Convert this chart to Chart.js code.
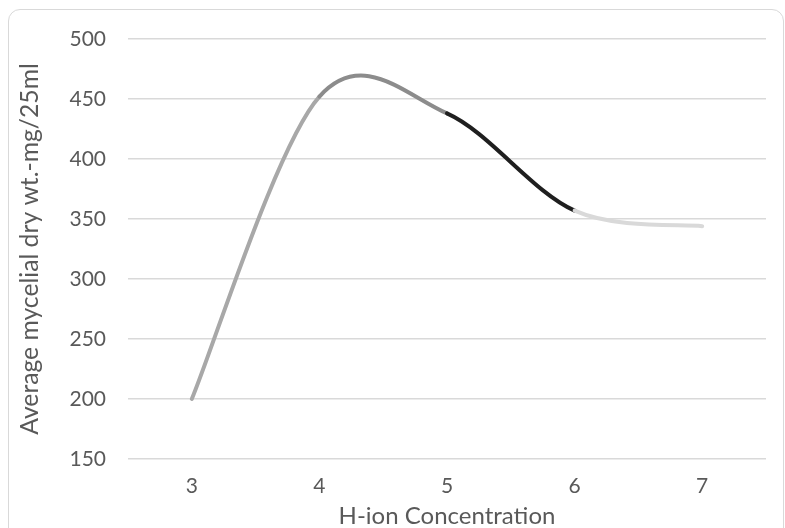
<!DOCTYPE html>
<html>
<head>
<meta charset="utf-8">
<script src="https://cdn.jsdelivr.net/npm/chart.js@4.4.1/dist/chart.umd.min.js"></script>
<style>
  html, body { margin: 0; padding: 0; background: #fff; }
  #wrap { position: relative; width: 785px; height: 528px; overflow: hidden; }
  #frame {
    position: absolute; left: 8px; top: 9px; width: 776px; height: 540px;
    border: 1px solid #d9d9d9; border-radius: 12px; box-sizing: border-box;
  }
  canvas { position: absolute; left: 0; top: 0; }
</style>
</head>
<body>
<div id="wrap">
  <div id="frame"></div>
  <canvas id="chart" width="785" height="528"></canvas>
</div>
<script>
const concentrations = ['3', '4', '5', '6', '7'];
const dryWeight = [200, 452, 438, 357, 344];
const segmentColors = ['#a8a8a8', '#8c8c8c', '#1f1f1f', '#d9d9d9'];

const FONT = 'Lato, "Open Sans", sans-serif';

// office-style smoothing: catmull-rom control points (1/6 of the neighbour chord)
const catmullRom = {
  id: 'catmullRom',
  beforeDatasetDraw(chart, args) {
    const line = chart.getDatasetMeta(args.index).dataset;
    line.updateControlPoints(chart.chartArea, 'x');
    const pts = line.points;
    pts.forEach((p, i) => {
      const prev = pts[Math.max(i - 1, 0)];
      const next = pts[Math.min(i + 1, pts.length - 1)];
      const dx = (next.x - prev.x) / 6, dy = (next.y - prev.y) / 6;
      p.cp1x = p.x - dx; p.cp1y = p.y - dy;
      p.cp2x = p.x + dx; p.cp2y = p.y + dy;
    });
  }
};

new Chart(document.getElementById('chart'), {
  type: 'line',
  data: {
    labels: concentrations,
    datasets: [{
      data: dryWeight,
      borderWidth: 4,
      borderCapStyle: 'round',
      tension: 0.4,
      pointRadius: 0,
      fill: false,
      segment: { borderColor: ctx => segmentColors[ctx.p0DataIndex] }
    }]
  },
  plugins: [catmullRom],
  options: {
    responsive: false,
    animation: false,
    layout: { padding: { left: 0, top: 39, right: 19, bottom: 0 } },
    plugins: { legend: { display: false }, tooltip: { enabled: false } },
    scales: {
      x: {
        offset: true,
        grid: { display: false, drawTicks: false },
        border: { display: false },
        ticks: { color: '#595959', font: { family: FONT, size: 21 }, padding: 15 },
        title: { display: true, text: 'H-ion Concentration', color: '#595959',
                 font: { family: FONT, size: 24 }, padding: { top: 0, bottom: -3 } },
        afterFit(scale) { scale.height = 69; }
      },
      y: {
        min: 150, max: 500,
        grid: { color: '#d9d9d9', lineWidth: 1.5, drawTicks: false },
        border: { display: false },
        ticks: { stepSize: 50, color: '#595959', font: { family: FONT, size: 21 }, padding: 22 },
        title: { display: true, text: 'Average mycelial dry wt.-mg/25ml', color: '#595959',
                 font: { family: FONT, size: 24.7 }, padding: { top: 15, bottom: 0 } },
        afterFit(scale) { scale.width = 128; }
      }
    }
  }
});
</script>
</body>
</html>
